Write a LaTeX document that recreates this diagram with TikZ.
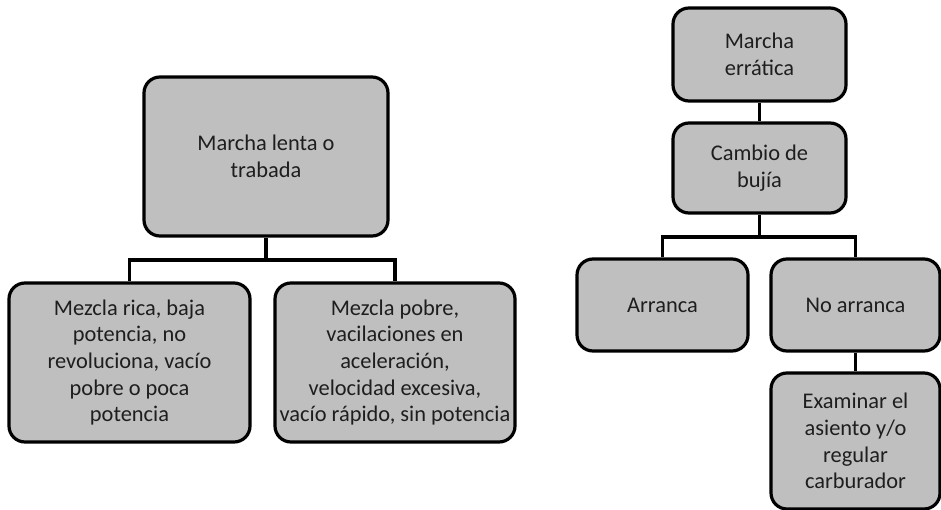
\documentclass[tikz,border=0pt]{standalone}
\usepackage{fontspec}
\setmainfont{Carlito}
\definecolor{boxfill}{RGB}{191,191,191}
\definecolor{txt}{RGB}{30,30,30}
\begin{document}
\begin{tikzpicture}[x=1pt,y=-1pt,
  box/.style={draw=black, fill=boxfill, line width=3.2pt, rounded corners=16pt,
    inner sep=0pt, align=center, text=txt,
    font=\fontsize{22.4}{26.7}\selectfont},
  link/.style={draw=black, line width=3.2pt}]
\useasboundingbox (0,0) rectangle (941,510);
% left tree
\node[box, minimum width=244pt, minimum height=159pt] (lt) at (266,156.5) {Marcha lenta o\\trabada};
\node[box, minimum width=241pt, minimum height=159pt] (la) at (129.5,362.5) {Mezcla rica, baja\\potencia, no\\revoluciona, vacío\\pobre o poca\\potencia};
\node[box, minimum width=240pt, minimum height=159pt] (lb) at (395,362.5) {Mezcla pobre,\\vacilaciones en\\aceleración,\\velocidad excesiva,\\vacío rápido, sin potencia};
\coordinate (lbus) at (266,260);
\draw[link] (lt.south) -- (lbus);
\draw[link] (lbus) -| (la.north);
\draw[link] (lbus) -| (lb.north);
% right tree
\node[box, minimum width=173pt, minimum height=93pt] (me) at (759.5,54.5) {Marcha\\errática};
\node[box, minimum width=173pt, minimum height=90pt] (cb) at (759.5,168) {Cambio de\\bujía};
\node[box, minimum width=171pt, minimum height=92pt] (ar) at (662.5,305) {Arranca};
\node[box, minimum width=169pt, minimum height=92pt] (na) at (855.5,305) {No arranca};
\node[box, minimum width=169pt, minimum height=136pt] (ex) at (855.5,441) {Examinar el\\asiento y/o\\regular\\carburador};
\coordinate (rbus) at (759.5,237);
\draw[link] (me.south) -- (cb.north);
\draw[link] (cb.south) -- (rbus);
\draw[link] (rbus) -| (ar.north);
\draw[link] (rbus) -| (na.north);
\draw[link] (na.south) -- (ex.north);
\end{tikzpicture}
\end{document}
